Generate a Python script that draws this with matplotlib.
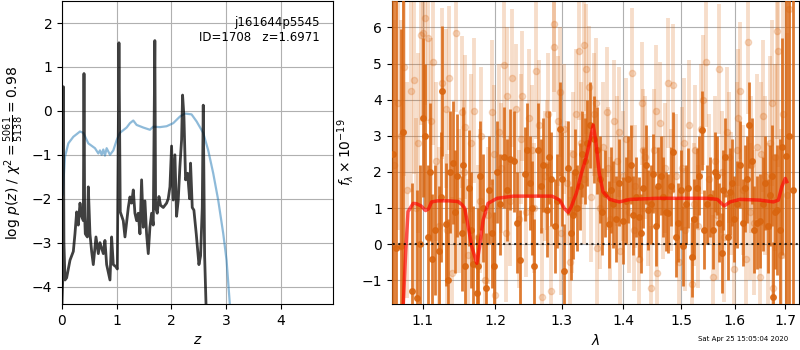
import numpy as np
import matplotlib
matplotlib.use('Agg')
import matplotlib.pyplot as plt
from matplotlib.ticker import ScalarFormatter, NullLocator

# --- left panel: redshift fit
z_pdf = [0.0, 0.012, 0.024, 0.035, 0.055, 0.085, 0.146, 0.207, 0.237, 0.268,
         0.298, 0.329, 0.359, 0.390, 0.402, 0.414, 0.426, 0.463, 0.481, 0.511,
         0.542, 0.572, 0.621, 0.664, 0.694, 0.755, 0.785, 0.816, 0.877, 0.907,
         0.938, 0.986, 1.011, 1.041, 1.065, 1.120, 1.151, 1.212, 1.242, 1.272,
         1.303, 1.333, 1.364, 1.394, 1.425, 1.455, 1.486, 1.516, 1.546, 1.577,
         1.607, 1.638, 1.668, 1.697, 1.711, 1.741, 1.772, 1.802, 1.851, 1.912,
         1.942, 1.973, 2.003, 2.033, 2.064, 2.094, 2.125, 2.155, 2.186, 2.204,
         2.229, 2.259, 2.296, 2.332, 2.350, 2.381, 2.411, 2.454, 2.503, 2.533,
         2.564, 2.582, 2.607, 2.637, 2.661]
logp = [-4.4, -3.9, 0.55, -3.0, -3.85, -3.8, -3.4, -3.2, -2.8, -2.3,
        -2.6, -2.1, -2.4, -2.5, 0.85, -2.4, -2.8, -2.87, -1.73, -2.8,
        -3.2, -3.5, -2.87, -3.25, -3.0, -3.25, -2.95, -3.5, -3.85, -2.87,
        -3.5, -3.55, -3.6, 1.55, -2.3, -2.5, -2.87, -2.2, -1.96, -2.1,
        -1.8, -2.33, -2.5, -2.33, -2.8, -1.57, -2.65, -2.05, -2.8, -3.25,
        -2.65, -2.33, -2.6, 1.6, -2.2, -2.33, -1.95, -2.15, -2.2, -2.1,
        -2.0, -1.73, -0.8, -2.03, -1.0, -2.4, -2.03, -1.27, -0.66, 0.36,
        -0.13, -1.57, -1.42, -2.0, -1.19, -2.2, -2.26, -2.8, -3.5, -3.3,
        -2.2, 0.13, -3.3, -4.6, -5.0]

z_chi2 = [0.012, 0.055, 0.116, 0.207, 0.329, 0.390, 0.481, 0.603, 0.664, 0.694,
          0.725, 0.755, 0.785, 0.816, 0.877, 0.938, 0.998, 1.059, 1.181, 1.242,
          1.303, 1.364, 1.486, 1.607, 1.668, 1.790, 1.912, 2.033, 2.155, 2.247,
          2.368, 2.460, 2.581, 2.673, 2.764, 2.855, 2.947, 3.008, 3.068, 3.12]
chi2_scaled = [-1.9, -1.04, -0.74, -0.59, -0.47, -0.5, -0.74, -0.85, -0.97, -0.9,
               -1.0, -0.88, -1.02, -0.85, -1.0, -0.9, -0.67, -0.5, -0.38, -0.28,
               -0.22, -0.32, -0.38, -0.43, -0.36, -0.37, -0.35, -0.28, -0.13, -0.06,
               -0.08, -0.24, -0.5, -0.9, -1.42, -2.03, -2.79, -3.4, -4.4, -5.0]

# --- right panel: spectrum (strong points)
dark_wave = [1.062, 1.066, 1.0718, 1.0748, 1.0856, 1.093, 1.1, 1.1031, 1.1075, 1.112,
             1.1164, 1.1218, 1.1263, 1.1308, 1.1367, 1.1413, 1.1467, 1.1527, 1.1573, 1.1634,
             1.168, 1.1737, 1.1784, 1.1864, 1.1917, 1.1983, 1.207, 1.2133, 1.2216, 1.228,
             1.2363, 1.2438, 1.2514, 1.2578, 1.264, 1.2716, 1.2767, 1.2828, 1.2895, 1.2972,
             1.3035, 1.3103, 1.3181, 1.3244, 1.3287, 1.3366, 1.3447, 1.3517, 1.3609, 1.3691,
             1.3763, 1.3829, 1.3929, 1.3996, 1.4081, 1.4165, 1.4262, 1.4337, 1.4423, 1.451,
             1.4597, 1.4685, 1.4774, 1.4863, 1.4952, 1.5042, 1.5133, 1.5194, 1.5285, 1.5377,
             1.547, 1.5582, 1.5657, 1.5751, 1.5814, 1.591, 1.5993, 1.6102, 1.6199, 1.6283,
             1.6381, 1.6493, 1.6592, 1.6692, 1.6759, 1.684, 1.6928, 1.7009, 1.708, 1.715,
             1.0965, 1.1097, 1.1242, 1.1338, 1.144, 1.155, 1.1657, 1.176, 1.1823, 1.195,
             1.2027, 1.2175, 1.232, 1.2476, 1.2546, 1.2675, 1.2798, 1.2933, 1.3003, 1.3141,
             1.3213, 1.3327, 1.3407, 1.3563, 1.365, 1.3796, 1.3879, 1.4038, 1.4123, 1.4213,
             1.4299, 1.438, 1.4466, 1.4553, 1.4641, 1.473, 1.4818, 1.4907, 1.4997, 1.5088,
             1.5239, 1.533, 1.5423, 1.5526, 1.562, 1.5704, 1.5783, 1.5862, 1.5951, 1.6047,
             1.615, 1.624, 1.6332, 1.6437, 1.6542, 1.6642, 1.6725, 1.680, 1.6885]
dark_flux = [2.5, -0.1, -0.05, 3.1, -1.3, -1.5, 3.5, 3.0, 0.2, -0.4,
             0.4, -0.2, 4.25, 0.55, 2.0, 2.25, 1.9, 0.3, -0.6, 1.55,
             -0.55, -1.35, 1.9, -1.2, 1.5, -0.6, 1.1, 2.4, 2.35, 2.3,
             -0.45, 1.95, 1.7, -0.6, 2.6, 2.2, 0.95, 1.8, 0.5, 3.2,
             -0.75, 2.1, 0.8, 1.0, 1.6, 2.3, 3.3, 2.9, 1.8, 1.4,
             0.55, 1.1, 1.7, 0.65, 1.8, 0.8, 0.75, 1.55, 0.95, 1.95,
             1.6, 1.3, 0.85, 2.55, 0.6, -0.05, 1.55, -0.35, 1.55, 3.15,
             1.1, 0.4, 1.9, -0.25, 2.4, 1.45, 0.7, 2.2, 1.55, 3.3,
             0.4, 0.65, 1.7, 1.35, -1.45, 0.95, 2.7, 2.45, 3.0, 1.5,
             0.0, 2.0, 1.3, -1.0, 0.9, 2.2, 0.4, -0.6, 1.0, 0.3,
             2.0, 1.5, 0.6, 2.6, 1.0, 1.6, 2.4, 1.2, 1.8, 0.3,
             2.0, 2.5, 2.8, 2.6, 0.9, 1.5, 0.7, 1.2, 2.2, 1.3,
             0.3, 2.2, 1.1, 0.5, 1.9, 0.9, 1.6, 0.2, 1.5, 1.1,
             0.7, 1.9, 0.4, 1.3, 2.0, 0.6, 1.5, 0.2, 1.7, 1.1,
             0.6, 1.8, 2.3, 0.6, 1.1, 0.5, 1.9, 0.9, 0.4]
dark_err = [10.0, 10.0, 6.0, 5.0, 3.0, 3.0, 2.2, 2.0, 2.0, 1.8,
            1.8, 1.8, 1.8, 1.7, 1.7, 1.7, 1.7, 1.6, 1.6, 1.6,
            1.6, 1.6, 1.5, 1.5, 1.5, 1.5, 1.4, 1.4, 1.4, 1.4,
            1.4, 1.3, 1.3, 1.3, 1.3, 1.3, 1.3, 1.3, 1.3, 1.3,
            1.3, 1.3, 1.2, 1.2, 1.2, 1.2, 1.2, 1.2, 1.2, 1.2,
            1.2, 1.2, 1.2, 1.2, 1.2, 1.1, 1.1, 1.1, 1.1, 1.1,
            1.1, 1.1, 1.1, 1.1, 1.1, 1.1, 1.1, 1.1, 1.1, 1.1,
            1.1, 1.1, 1.1, 1.1, 1.1, 1.2, 1.2, 1.2, 1.2, 1.2,
            1.2, 1.3, 1.3, 1.4, 1.5, 1.8, 3.0, 5.0, 10.0, 10.0,
            2.2, 1.9, 1.8, 1.7, 1.7, 1.6, 1.6, 1.6, 1.5, 1.5,
            1.4, 1.4, 1.4, 1.3, 1.3, 1.3, 1.3, 1.3, 1.3, 1.3,
            1.2, 1.2, 1.2, 1.2, 1.2, 1.2, 1.2, 1.2, 1.1, 1.1,
            1.1, 1.1, 1.1, 1.1, 1.1, 1.1, 1.1, 1.1, 1.1, 1.1,
            1.1, 1.1, 1.1, 1.1, 1.1, 1.1, 1.1, 1.2, 1.2, 1.2,
            1.2, 1.2, 1.2, 1.3, 1.3, 1.3, 1.4, 1.6, 2.5]

# --- right panel: spectrum (faint points)
light_wave = [1.063, 1.068, 1.0756, 1.080, 1.0848, 1.089, 1.094, 1.0985, 1.1009, 1.1031,
              1.1075, 1.1141, 1.118, 1.122, 1.126, 1.131, 1.136, 1.140, 1.1449, 1.149,
              1.153, 1.158, 1.162, 1.166, 1.170, 1.175, 1.180, 1.185, 1.190, 1.195,
              1.2005, 1.205, 1.209, 1.2128, 1.218, 1.221, 1.2252, 1.230, 1.235, 1.240,
              1.245, 1.250, 1.255, 1.2604, 1.265, 1.2689, 1.274, 1.279, 1.283, 1.2873,
              1.2887, 1.294, 1.299, 1.304, 1.309, 1.313, 1.318, 1.322, 1.3274, 1.331,
              1.3348, 1.3387, 1.343, 1.347, 1.352, 1.356, 1.361, 1.366, 1.3728, 1.378,
              1.3843, 1.389, 1.394, 1.399, 1.404, 1.409, 1.4145, 1.420, 1.426, 1.431,
              1.437, 1.442, 1.447, 1.452, 1.458, 1.463, 1.468, 1.472, 1.4774, 1.4863,
              1.491, 1.497, 1.502, 1.508, 1.514, 1.520, 1.526, 1.531, 1.537, 1.5458,
              1.552, 1.558, 1.563, 1.5693, 1.575, 1.580, 1.586, 1.592, 1.598, 1.604,
              1.6102, 1.616, 1.621, 1.6265, 1.632, 1.637, 1.643, 1.649, 1.6547, 1.660,
              1.665, 1.670, 1.675, 1.679, 1.6827, 1.6861, 1.691, 1.696, 1.7029, 1.708,
              1.0715, 1.091, 1.111, 1.133, 1.156, 1.178, 1.198, 1.2155, 1.2375, 1.258,
              1.277, 1.297, 1.3155, 1.336, 1.354, 1.375, 1.392, 1.417, 1.434, 1.455,
              1.4815, 1.505, 1.523, 1.541, 1.566, 1.589, 1.607, 1.629, 1.652, 1.673]
light_flux = [2.2, 3.9, 4.9, 1.5, 4.25, 4.55, 2.8, 5.8, 5.85, 6.25,
              5.7, 5.05, 2.3, 0.5, 4.45, 3.75, 4.6, -0.8, 5.85, 1.2,
              3.65, 3.25, -0.3, 2.8, 3.7, 0.2, 3.0, -1.0, 0.8, 3.65,
              -1.4, 3.1, 2.1, 4.95, 4.1, 1.2, 4.6, 3.75, 0.7, 4.1,
              0.9, 3.5, 2.6, 4.8, 3.3, -1.45, 1.9, 3.6, -1.3, 6.1,
              5.45, 3.4, 0.3, 3.2, 1.7, -0.5, 2.5, 3.6, 5.35, 2.8,
              5.5, 4.85, 4.35, 1.3, 3.6, -0.1, 1.0, 2.7, 3.65, 0.7,
              3.4, 2.3, -0.2, 1.9, 2.9, 0.9, 4.75, 1.6, -0.4, 3.9,
              2.4, 1.2, -1.2, 2.6, -0.8, 3.35, 1.3, 2.1, 4.45, 4.4,
              1.9, -0.5, 2.1, 0.4, 3.3, -1.1, 2.6, 0.5, 3.2, 5.05,
              1.8, -0.9, 2.3, 4.85, 2.0, 0.2, 3.1, 1.4, -0.7, 2.6,
              4.25, 1.5, -0.4, 5.6, 2.2, 0.6, 2.7, -0.9, 3.55, 1.9,
              0.5, 2.8, -1.2, 2.4, 5.9, 5.35, -0.3, 3.6, 1.35, 6.5,
              3.0, 1.0, 3.4, 0.4, 2.0, 1.2, 2.5, 0.3, 2.9, 1.0,
              2.2, 4.2, 0.9, 1.8, 3.9, 2.1, 3.1, 0.4, 2.6, 3.7,
              1.5, 2.8, 1.1, 4.0, 0.8, 2.4, 3.5, 0.9, 2.5, 3.9]
light_err = [4.0, 3.5, 3.0, 3.0, 2.8, 2.6, 2.5, 2.5, 2.4, 2.4,
             2.3, 2.3, 2.2, 2.2, 2.1, 2.2, 2.0, 2.1, 2.2, 2.0,
             2.1, 2.0, 2.1, 1.9, 2.0, 2.0, 1.9, 2.0, 1.9, 2.0,
             2.0, 1.9, 1.8, 2.0, 1.9, 1.8, 1.9, 1.8, 1.9, 1.8,
             1.8, 1.9, 1.8, 1.9, 1.8, 1.9, 1.8, 1.7, 1.8, 1.9,
             1.8, 1.8, 1.7, 1.8, 1.7, 1.8, 1.7, 1.8, 1.9, 1.7,
             1.8, 1.8, 1.7, 1.8, 1.7, 1.8, 1.7, 1.8, 1.8, 1.7,
             1.7, 1.8, 1.7, 1.8, 1.7, 1.7, 1.8, 1.7, 1.8, 1.7,
             1.7, 1.8, 1.7, 1.7, 1.8, 1.7, 1.7, 1.8, 1.8, 1.7,
             1.7, 1.8, 1.7, 1.7, 1.8, 1.7, 1.8, 1.7, 1.8, 1.8,
             1.8, 1.7, 1.8, 1.8, 1.7, 1.8, 1.8, 1.7, 1.8, 1.9,
             1.9, 1.8, 1.9, 2.0, 1.9, 2.0, 2.0, 2.1, 2.1, 2.2,
             2.3, 2.4, 2.5, 2.6, 3.0, 3.2, 3.5, 4.0, 4.5, 5.0,
             3.2, 2.5, 2.3, 2.1, 2.0, 2.0, 1.9, 1.9, 1.8, 1.8,
             1.8, 1.8, 1.7, 1.8, 1.8, 1.7, 1.8, 1.7, 1.7, 1.8,
             1.7, 1.8, 1.7, 1.8, 1.8, 1.8, 1.9, 1.9, 2.0, 2.3]

model_wave = [1.0748, 1.078, 1.081, 1.0877, 1.092, 1.098, 1.104, 1.108, 1.112, 1.12,
              1.135, 1.148, 1.153, 1.157, 1.162, 1.167, 1.174, 1.178, 1.183, 1.19,
              1.203, 1.227, 1.285, 1.297, 1.304, 1.31, 1.315, 1.323, 1.331, 1.339,
              1.345, 1.350, 1.354, 1.36, 1.366, 1.377, 1.393, 1.411, 1.457, 1.547,
              1.567, 1.576, 1.58, 1.591, 1.61, 1.649, 1.676, 1.686, 1.693, 1.7, 1.703]
model_flux = [-1.7, -0.2, 0.9, 1.13, 1.12, 1.06, 0.93, 0.98, 1.17, 1.2,
              1.2, 1.18, 1.1, 1.0, 0.48, -0.07, -0.53, -0.07, 0.67, 1.13,
              1.27, 1.33, 1.33, 1.22, 0.99, 0.88, 1.04, 1.41, 1.96, 2.42,
              2.88, 3.3, 2.88, 1.96, 1.45, 1.24, 1.17, 1.24, 1.27, 1.27,
              1.24, 1.11, 1.06, 1.17, 1.24, 1.22, 1.17, 1.22, 1.59, 1.82, 1.73]

orange = '#d9650f'

fig = plt.figure(figsize=(8, 3.5), dpi=100)
ax1 = fig.add_axes([0.0775, 0.131, 0.3385, 0.866])
ax2 = fig.add_axes([0.4896, 0.131, 0.5096, 0.866])

ax1.plot(z_chi2, chi2_scaled, color='tab:blue', alpha=0.5, lw=1.6)
ax1.plot(z_pdf, logp, color='k', alpha=0.75, lw=2.0)
ax1.set_xlim(0, 4.95)
ax1.set_ylim(-4.4, 2.5)
ax1.set_xticks([0, 1, 2, 3, 4])
ax1.set_yticks([-4, -3, -2, -1, 0, 1, 2])
ax1.grid(True)
ax1.set_xlabel(r'$z$')
ax1.set_ylabel(r'$\log\,p(z)$ / $\chi^2=\frac{5061}{5138}=0.98$')
ax1.text(0.95, 0.95, 'j161644p5545\nID=1708   z=1.6971', transform=ax1.transAxes,
         ha='right', va='top', fontsize=8.5)

ax2.errorbar(light_wave, light_flux, yerr=light_err, fmt='o', color=orange,
             alpha=0.22, ms=4.5, elinewidth=2.8, capsize=0, zorder=2)
ax2.errorbar(dark_wave, dark_flux, yerr=dark_err, fmt='o', color=orange,
             alpha=0.85, ms=4, elinewidth=2.0, capsize=0, zorder=3)
ax2.plot(model_wave, model_flux, color='r', alpha=0.65, lw=2.5, zorder=4)
ax2.plot([1.0, 1.8], [0, 0], color='k', ls=':', lw=1.5, alpha=0.8, zorder=5)
ax2.set_xscale('log')
ax2.set_xlim(1.06, 1.729)
ax2.set_ylim(-1.66, 6.73)
ax2.set_xticks([1.1, 1.2, 1.3, 1.4, 1.5, 1.6, 1.7])
ax2.xaxis.set_major_formatter(ScalarFormatter())
ax2.xaxis.set_minor_locator(NullLocator())
ax2.set_yticks([-1, 0, 1, 2, 3, 4, 5, 6])
ax2.grid(True)
ax2.set_xlabel(r'$\lambda$')
ax2.set_ylabel(r'$f_\lambda \times 10^{-19}$')

fig.text(0.985, 0.025, 'Sat Apr 25 15:05:04 2020', ha='right', fontsize=5)

fig.savefig('out.png', dpi=100)
